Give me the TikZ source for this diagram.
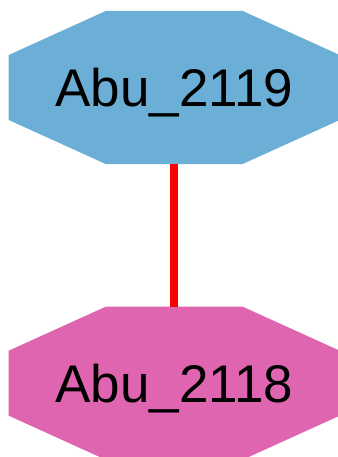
\documentclass[tikz,border=0pt]{standalone}
\usepackage{fontspec}
\setmainfont{Liberation Sans}
\usetikzlibrary{calc}
\definecolor{abublue}{HTML}{6BAED6}
\definecolor{abupink}{HTML}{DF65B0}
\tikzset{octagon/.style={minimum width=331pt,minimum height=153pt,inner sep=0pt,
    text depth=0pt,font=\fontsize{53}{53}\selectfont,
    path picture={\fill[#1] let \p1=(path picture bounding box.south west),
        \p2=(path picture bounding box.north east) in
        (\x1+97pt,\y1) -- (\x2-97pt,\y1) -- (\x2,\y1+44pt) -- (\x2,\y2-44pt)
        -- (\x2-97pt,\y2) -- (\x1+97pt,\y2) -- (\x1,\y2-44pt) -- (\x1,\y1+44pt) -- cycle;}}}
\tikzstyle{edge} = [draw,red,line width=7.5pt]

\begin{document}
\begin{tikzpicture}[x=1pt,y=1pt]

    \useasboundingbox (0,0) rectangle (337,-457);

    \foreach \pos/\name/\lbl/\col in {{(174.2,-87.5)/a2119/Abu\_2119/abublue}, {(174.2,-383.2)/a2118/Abu\_2118/abupink}}
        \node[octagon=\col] (\name) at \pos {\lbl};

    \path[edge] (a2119) -- (a2118);

\end{tikzpicture}
\end{document}
